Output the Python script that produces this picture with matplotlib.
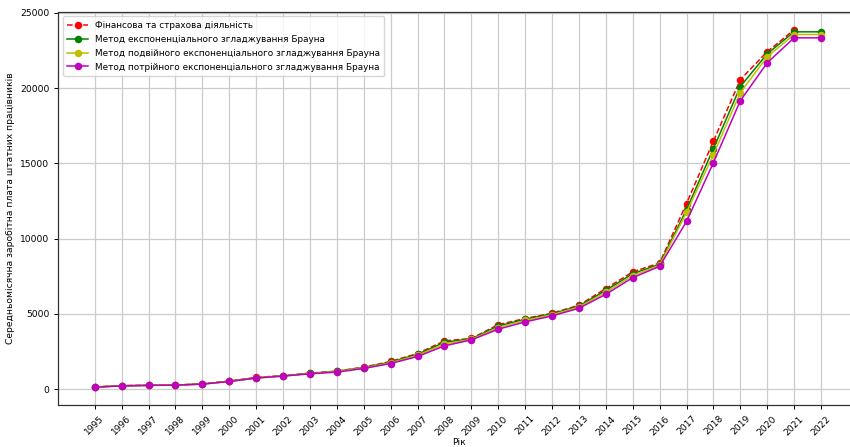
import numpy as np
import matplotlib
matplotlib.use("Agg")
import matplotlib.pyplot as plt

years = list(range(1995, 2022))
years_fc = list(range(1995, 2023))

# фактичні дані
finance = [140, 230, 255, 270, 345, 535, 775, 895, 1060, 1195, 1460, 1835, 2365, 3200,
           3365, 4280, 4690, 5040, 5570, 6680, 7790, 8380, 12330, 16480, 20560, 22420, 23870]

# згладжені ряди (з прогнозом на 2022)
brown_single = [135, 222, 252, 268, 338, 516, 752, 883, 1043, 1182, 1432, 1797, 2312, 3112,
                3340, 4196, 4640, 5000, 5515, 6564, 7670, 8300, 11930, 15980, 20100, 22280, 23740, 23740]
brown_double = [133, 215, 249, 267, 333, 510, 740, 875, 1030, 1160, 1400, 1750, 2240, 3000,
                3300, 4090, 4560, 4940, 5450, 6430, 7540, 8230, 11740, 15580, 19700, 22080, 23560, 23560]
brown_triple = [130, 210, 245, 265, 330, 505, 730, 862, 1017, 1127, 1370, 1700, 2166, 2873,
                3270, 3980, 4465, 4863, 5371, 6300, 7405, 8157, 11140, 15050, 19160, 21680, 23340, 23340]

plt.rcParams['font.family'] = ['DejaVu Sans']
fs = 6.6

fig = plt.figure(figsize=(8.5, 4.47), dpi=100)
ax = fig.add_axes([58.5 / 850, 42 / 447, (860 - 58.5) / 850, 393 / 447])

lw = 1.1
ms = 4.4
ax.plot(years, finance, 'r--o', lw=lw, ms=ms, label='Фінансова та страхова діяльність')
ax.plot(years_fc, brown_single, 'g-o', lw=lw, ms=ms, label='Метод експоненціального згладжування Брауна')
ax.plot(years_fc, brown_double, 'y-o', lw=lw, ms=ms, label='Метод подвійного експоненціального згладжування Брауна')
ax.plot(years_fc, brown_triple, 'm-o', lw=lw, ms=ms, label='Метод потрійного експоненціального згладжування Брауна')

ax.set_xticks(years_fc)
ax.set_xlim(1993.65, 2023.45)
ax.tick_params(axis='x', labelrotation=45, labelsize=fs, length=3, width=0.7)
ax.tick_params(axis='y', labelsize=fs, length=3, width=0.7)
ax.grid(True, color='#cccccc', lw=0.9)
for s in ax.spines.values():
    s.set_linewidth(0.9)
    s.set_color('#333333')

ax.set_xlabel('Рік', fontsize=fs, labelpad=1)
ax.set_ylabel('Середньомісячна заробітна плата штатних працівників', fontsize=fs, labelpad=4)
ax.legend(loc='upper left', fontsize=6.4, handlelength=2.3, borderpad=0.5, labelspacing=0.55)

fig.savefig('out.png', dpi=100)
